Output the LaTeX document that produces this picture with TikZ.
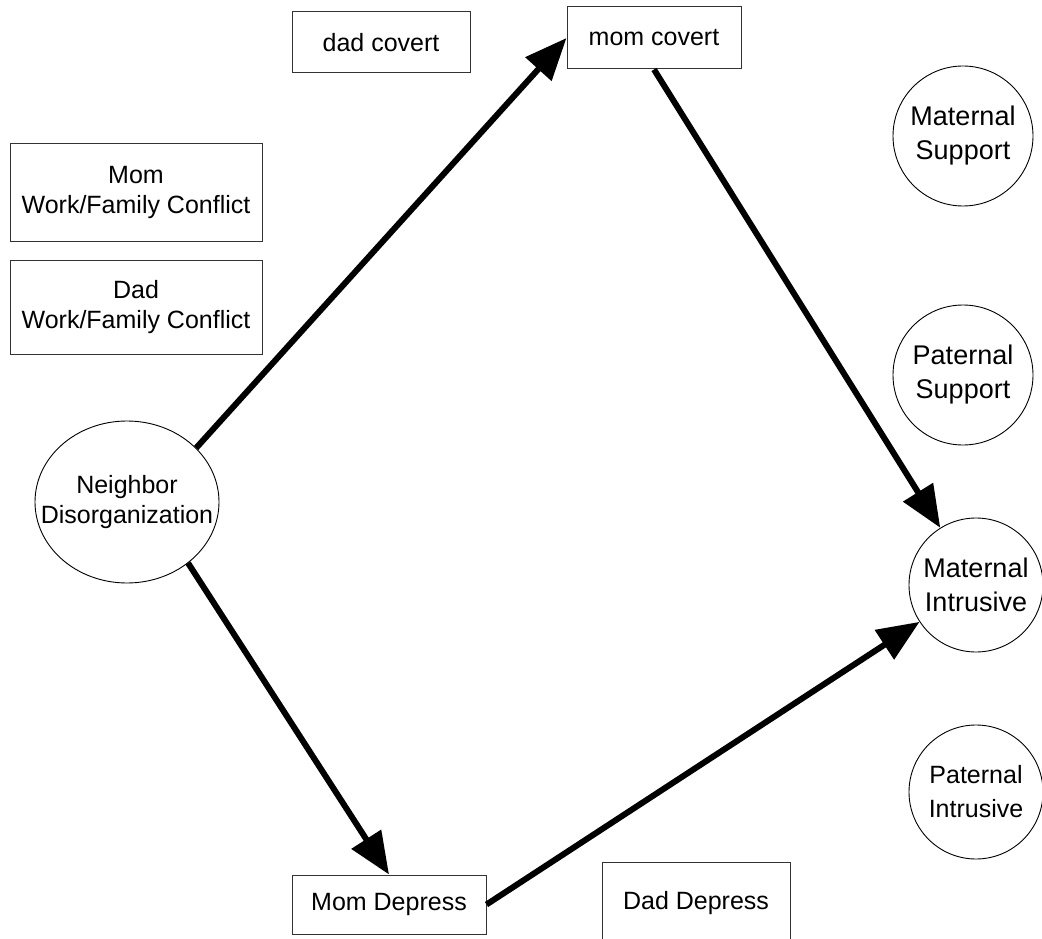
\documentclass[tikz,border=0pt]{standalone}
\usepackage{fontspec}
\setmainfont{Liberation Sans}
\usetikzlibrary{arrows.meta,shapes.geometric}
\begin{document}
\begin{tikzpicture}[x=1pt,y=-1pt,
  box/.style={draw=black!80, line width=1pt, rectangle, inner sep=0pt, align=center, font=\fontsize{25}{30}\selectfont},
  circ/.style={draw=black, line width=0.9pt, circle, inner sep=0pt, minimum size=134pt, align=center, font=\fontsize{27}{34}\selectfont},
  oval/.style={draw=black, line width=0.9pt, ellipse, inner sep=0pt},
  link/.style={line width=6pt, -{Triangle[length=42pt,width=34pt]}}
]
\useasboundingbox (0,0) rectangle (1042,939);
\node[box, minimum width=178pt, minimum height=61pt] (dadcov) at (381,42.5) {dad covert};
\node[box, minimum width=174pt, minimum height=62pt] (momcov) at (654,38) {mom covert};
\node[box, minimum width=252pt, minimum height=97pt] (momwf) at (136,192.5) {Mom\\Work/Family Conflict};
\node[box, minimum width=252pt, minimum height=94pt] (dadwf) at (136,307) {Dad\\Work/Family Conflict};
\node[oval, minimum width=184pt, minimum height=162pt,
  label={[align=center, font=\fontsize{25}{30}\selectfont]center:{Neighbor\\Disorganization}}] (nd) at (127,502) {};
\node[circ, minimum size=140pt] (ms) at (963,136) {Maternal\\Support};
\node[circ, minimum size=140pt] (ps) at (963,375) {Paternal\\Support};
\node[circ] (mi) at (976,585) {Maternal\\Intrusive};
\node[circ, font=\fontsize{25}{34}\selectfont] (pi) at (976,792) {Paternal\\Intrusive};
\node[box, minimum width=194pt, minimum height=59pt] (momdep) at (389,904.5) {Mom Depress};
\node[box, minimum width=188pt, minimum height=82pt] (daddep) at (696,903) {Dad Depress};
\draw[link] (nd.38) -- (momcov.west);
\draw[link] (momcov.south) -- (mi);
\draw[link] (nd.-45) -- (momdep.north);
\draw[link] (momdep.east) -- (mi);
\end{tikzpicture}
\end{document}
